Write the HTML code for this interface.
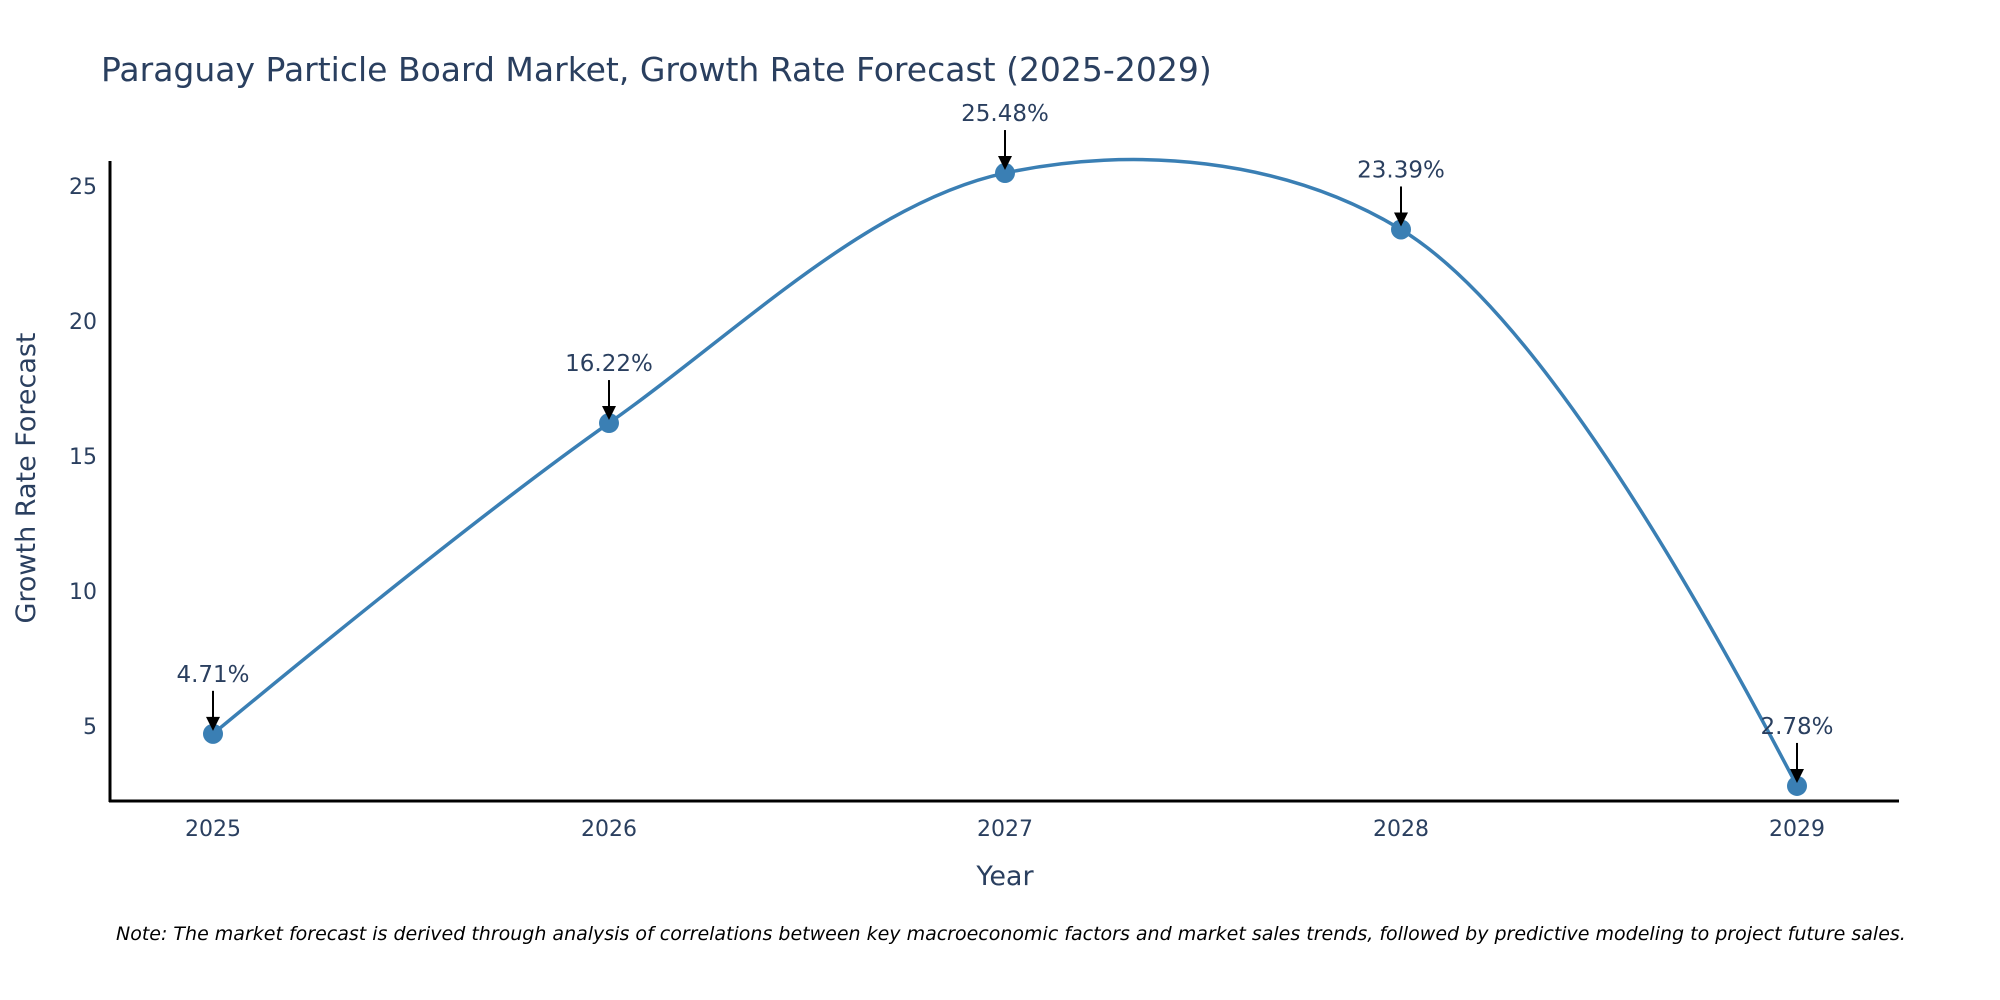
<!DOCTYPE html>
<html><head><meta charset="utf-8"><style>
html,body{margin:0;padding:0;background:#fff;}
svg{display:block;font-family:"DejaVu Sans","Liberation Sans",sans-serif;}
</style></head><body>
<svg id="chart" width="2000" height="1000" viewBox="0 0 2000 1000">
<text x="101" y="81" font-size="33" fill="#2a3f5f">Paraguay Particle Board Market, Growth Rate Forecast (2025-2029)</text>
<g id="yticks"></g>
<g id="xticks"></g>
<g id="series"></g>
<g id="annots"></g>
<line x1="110" y1="161" x2="110" y2="802" stroke="#000" stroke-width="3"/>
<line x1="109" y1="801" x2="1899" y2="801" stroke="#000" stroke-width="3"/>
<text x="1005" y="885" font-size="27" fill="#2a3f5f" text-anchor="middle">Year</text>
<text x="0" y="0" font-size="27" fill="#2a3f5f" text-anchor="middle" transform="translate(35,478) rotate(-90)">Growth Rate Forecast</text>
<text x="116" y="940" font-size="19" font-style="italic" fill="#000">Note: The market forecast is derived through analysis of correlations between key macroeconomic factors and market sales trends, followed by predictive modeling to project future sales.</text>
</svg>
<script>
const categories = [2025, 2026, 2027, 2028, 2029];
const values = [4.71, 16.22, 25.48, 23.39, 2.78];
const labels = ["4.71%", "16.22%", "25.48%", "23.39%", "2.78%"];
const yTicks = [5, 10, 15, 20, 25];

const NS = "http://www.w3.org/2000/svg";
function xs(i){ return 213 + (categories[i]-categories[0]) * 396; }
function ys(v){ return 726 - (v-5) * 27; }
function mk(tag, attrs){ const e=document.createElementNS(NS,tag); for(const k in attrs) e.setAttribute(k,attrs[k]); return e; }

const yg=document.getElementById('yticks');
yTicks.forEach(t=>{
  const e=mk('text',{x:97,y:ys(t)+8,'font-size':22,fill:'#2a3f5f','text-anchor':'end'});
  
  
  e.textContent=t; yg.appendChild(e);
});
const xg=document.getElementById('xticks');
categories.forEach((c,i)=>{
  const e=mk('text',{x:xs(i),y:836,'font-size':22,fill:'#2a3f5f','text-anchor':'middle'});
  
  
  e.textContent=c; xg.appendChild(e);
});

const pts=values.map((v,i)=>[xs(i),ys(v)]);
function tangent(p0,p1,p2,s){
  const dx0=p0[0]-p1[0], dy0=p0[1]-p1[1], dx2=p2[0]-p1[0], dy2=p2[1]-p1[1];
  const d0=Math.pow(dx0*dx0+dy0*dy0,0.25), d2=Math.pow(dx2*dx2+dy2*dy2,0.25);
  const nx=(d2*d2*dx0-d0*d0*dx2)*s, ny=(d2*d2*dy0-d0*d0*dy2)*s;
  const a=3*d2*(d0+d2), b=3*d0*(d0+d2);
  return [[p1[0]+nx/a,p1[1]+ny/a],[p1[0]-nx/b,p1[1]-ny/b]];
}
const tg=[];
for(let i=1;i<pts.length-1;i++) tg.push(tangent(pts[i-1],pts[i],pts[i+1],1));
let d=`M${pts[0]} Q${tg[0][0]} ${pts[1]}`;
for(let i=2;i<pts.length-1;i++) d+=` C${tg[i-2][1]} ${tg[i-1][0]} ${pts[i]}`;
d+=` Q${tg[tg.length-1][1]} ${pts[pts.length-1]}`;
const sg=document.getElementById('series');
const line=mk('path',{d:d,fill:'none',stroke:'#3a7fb4','stroke-width':3.5});


sg.appendChild(line);
pts.forEach(p=>{
  const c=mk('circle',{cx:p[0],cy:p[1],r:10,fill:'#3a7fb4'});
  
  
  sg.appendChild(c);
});
const ag=document.getElementById('annots');
pts.forEach((p,i)=>{
  const l=mk('line',{x1:p[0],y1:p[1]-43,x2:p[0],y2:p[1]-13,stroke:'#000','stroke-width':2});
  
  
  ag.appendChild(l);
  const h=mk('path',{d:`M${p[0]-7},${p[1]-17} L${p[0]+7},${p[1]-17} L${p[0]},${p[1]-3} z`,fill:'#000'});
  
  
  ag.appendChild(h);
  const t=mk('text',{x:p[0],y:p[1]-52,'font-size':23,fill:'#2a3f5f','text-anchor':'middle'});
  
  
  t.textContent=labels[i]; ag.appendChild(t);
});
</script>
</body></html>
